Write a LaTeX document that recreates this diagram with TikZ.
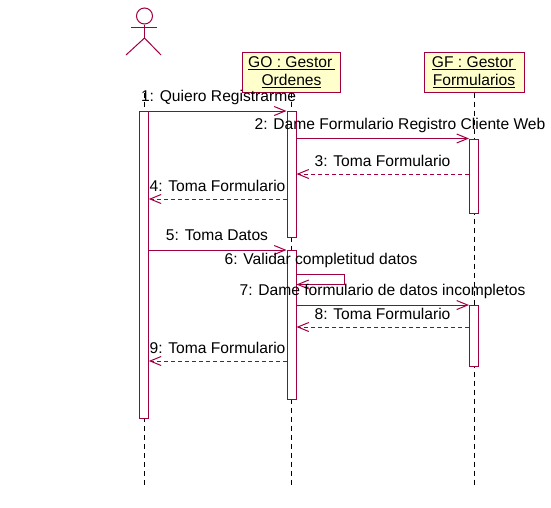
\documentclass[tikz,border=0pt]{standalone}
\usepackage{fontspec}
\setmainfont{Liberation Sans}
\usetikzlibrary{arrows.meta}
\definecolor{umlline}{HTML}{A00040}
\definecolor{umlfill}{HTML}{FFFFCC}
\begin{document}
\begin{tikzpicture}[
    x=1pt, y=-1pt,
    >={Straight Barb[length=11pt,width=9pt]},
    objbox/.style={draw=umlline, line width=1pt, fill=umlfill, align=center, inner sep=0pt, minimum width=98pt, minimum height=40pt, font=\fontsize{15.6}{18}\selectfont},
    bar/.style={draw=umlline, line width=1pt, fill=white, inner sep=0pt, minimum width=9pt},
    life/.style={dash pattern=on 5pt off 4pt, line width=0.8pt},
    msg/.style={->, draw=umlline, line width=1pt},
    reply/.style={->, draw=umlline, line width=1pt, dash pattern=on 4pt off 3pt},
    lbl/.style={inner sep=0pt, font=\fontsize{15.6}{18}\selectfont},
    limb/.style={draw=umlline, line width=1pt}
  ]
    \useasboundingbox (0,0) rectangle (551,507);

    \node[objbox] (go) at (291.5,72) {\underline{GO : Gestor\,}\\\underline{Ordenes}};
    \node[objbox, minimum width=100pt] (gf) at (474,72) {\underline{GF : Gestor\,}\\\underline{Formularios}};

    \node[circle, draw=umlline, line width=1pt, minimum size=16pt, inner sep=0pt] (head) at (144.5,16) {};
    \coordinate (hip) at (144.5,38);
    \coordinate (actorend) at (144,486);
    \coordinate (goend) at (291.5,486);
    \coordinate (gfend) at (474,486);
    \coordinate (actorstart) at (144,93);

    \draw[life] (actorstart) -- (actorend);
    \draw[life] (go.south) -- (goend);
    \draw[life] (gf.south) -- (gfend);

    \draw[limb] (head.south) -- (hip);
    \draw[limb] (131,27) -- (156.5,27);
    \draw[limb] (126,55) -- (hip) -- (161,55);

    \node[bar, minimum height=307pt] (actbar) at (143.8,265) {};
    \node[bar, minimum height=126pt] (gobara) at (291.5,174.5) {};
    \node[bar, minimum height=149pt] (gobarb) at (291.5,325) {};
    \node[bar, minimum height=74pt] (gfbara) at (474,176) {};
    \node[bar, minimum height=60.5pt] (gfbarb) at (474,335.8) {};

    \draw[msg] (actbar.north east) -- (gobara.north west);
    \draw[msg] (gobara.east |- gfbara.north) -- (gfbara.north west);
    \draw[reply] (gfbara.west |- 0,174) -- (gobara.east |- 0,174);
    \draw[reply] (gobara.west |- 0,199) -- (actbar.east |- 0,199);
    \draw[msg] (actbar.east |- gobarb.north) -- (gobarb.north west);
    \draw[msg] (gobarb.east |- 0,274.5) -- (344.5,274.5) -- (344.5,284.5) -- (gobarb.east |- 0,284.5);
    \draw[msg] (gobarb.east |- gfbarb.north) -- (gfbarb.north west);
    \draw[reply] (gfbarb.west |- 0,327) -- (gobarb.east |- 0,327);
    \draw[reply] (gobarb.west |- 0,361) -- (actbar.east |- 0,361);

    \node[lbl] (m1) at (218.5,97.5) {1: Quiero Registrarme};
    \node[lbl] (m2) at (400,125.5) {2: Dame Formulario Registro Cliente Web};
    \node[lbl] (m3) at (382.5,160.5) {3: Toma Formulario};
    \node[lbl] (m4) at (217.5,185.5) {4: Toma Formulario};
    \node[lbl] (m5) at (217,235.5) {5: Toma Datos};
    \node[lbl] (m6) at (321,260.5) {6: Validar completitud datos};
    \node[lbl] (m7) at (382.5,291.5) {7: Dame formulario de datos incompletos};
    \node[lbl] (m8) at (382.5,313.5) {8: Toma Formulario};
    \node[lbl] (m9) at (217.5,347.5) {9: Toma Formulario};
  \end{tikzpicture}
\end{document}
